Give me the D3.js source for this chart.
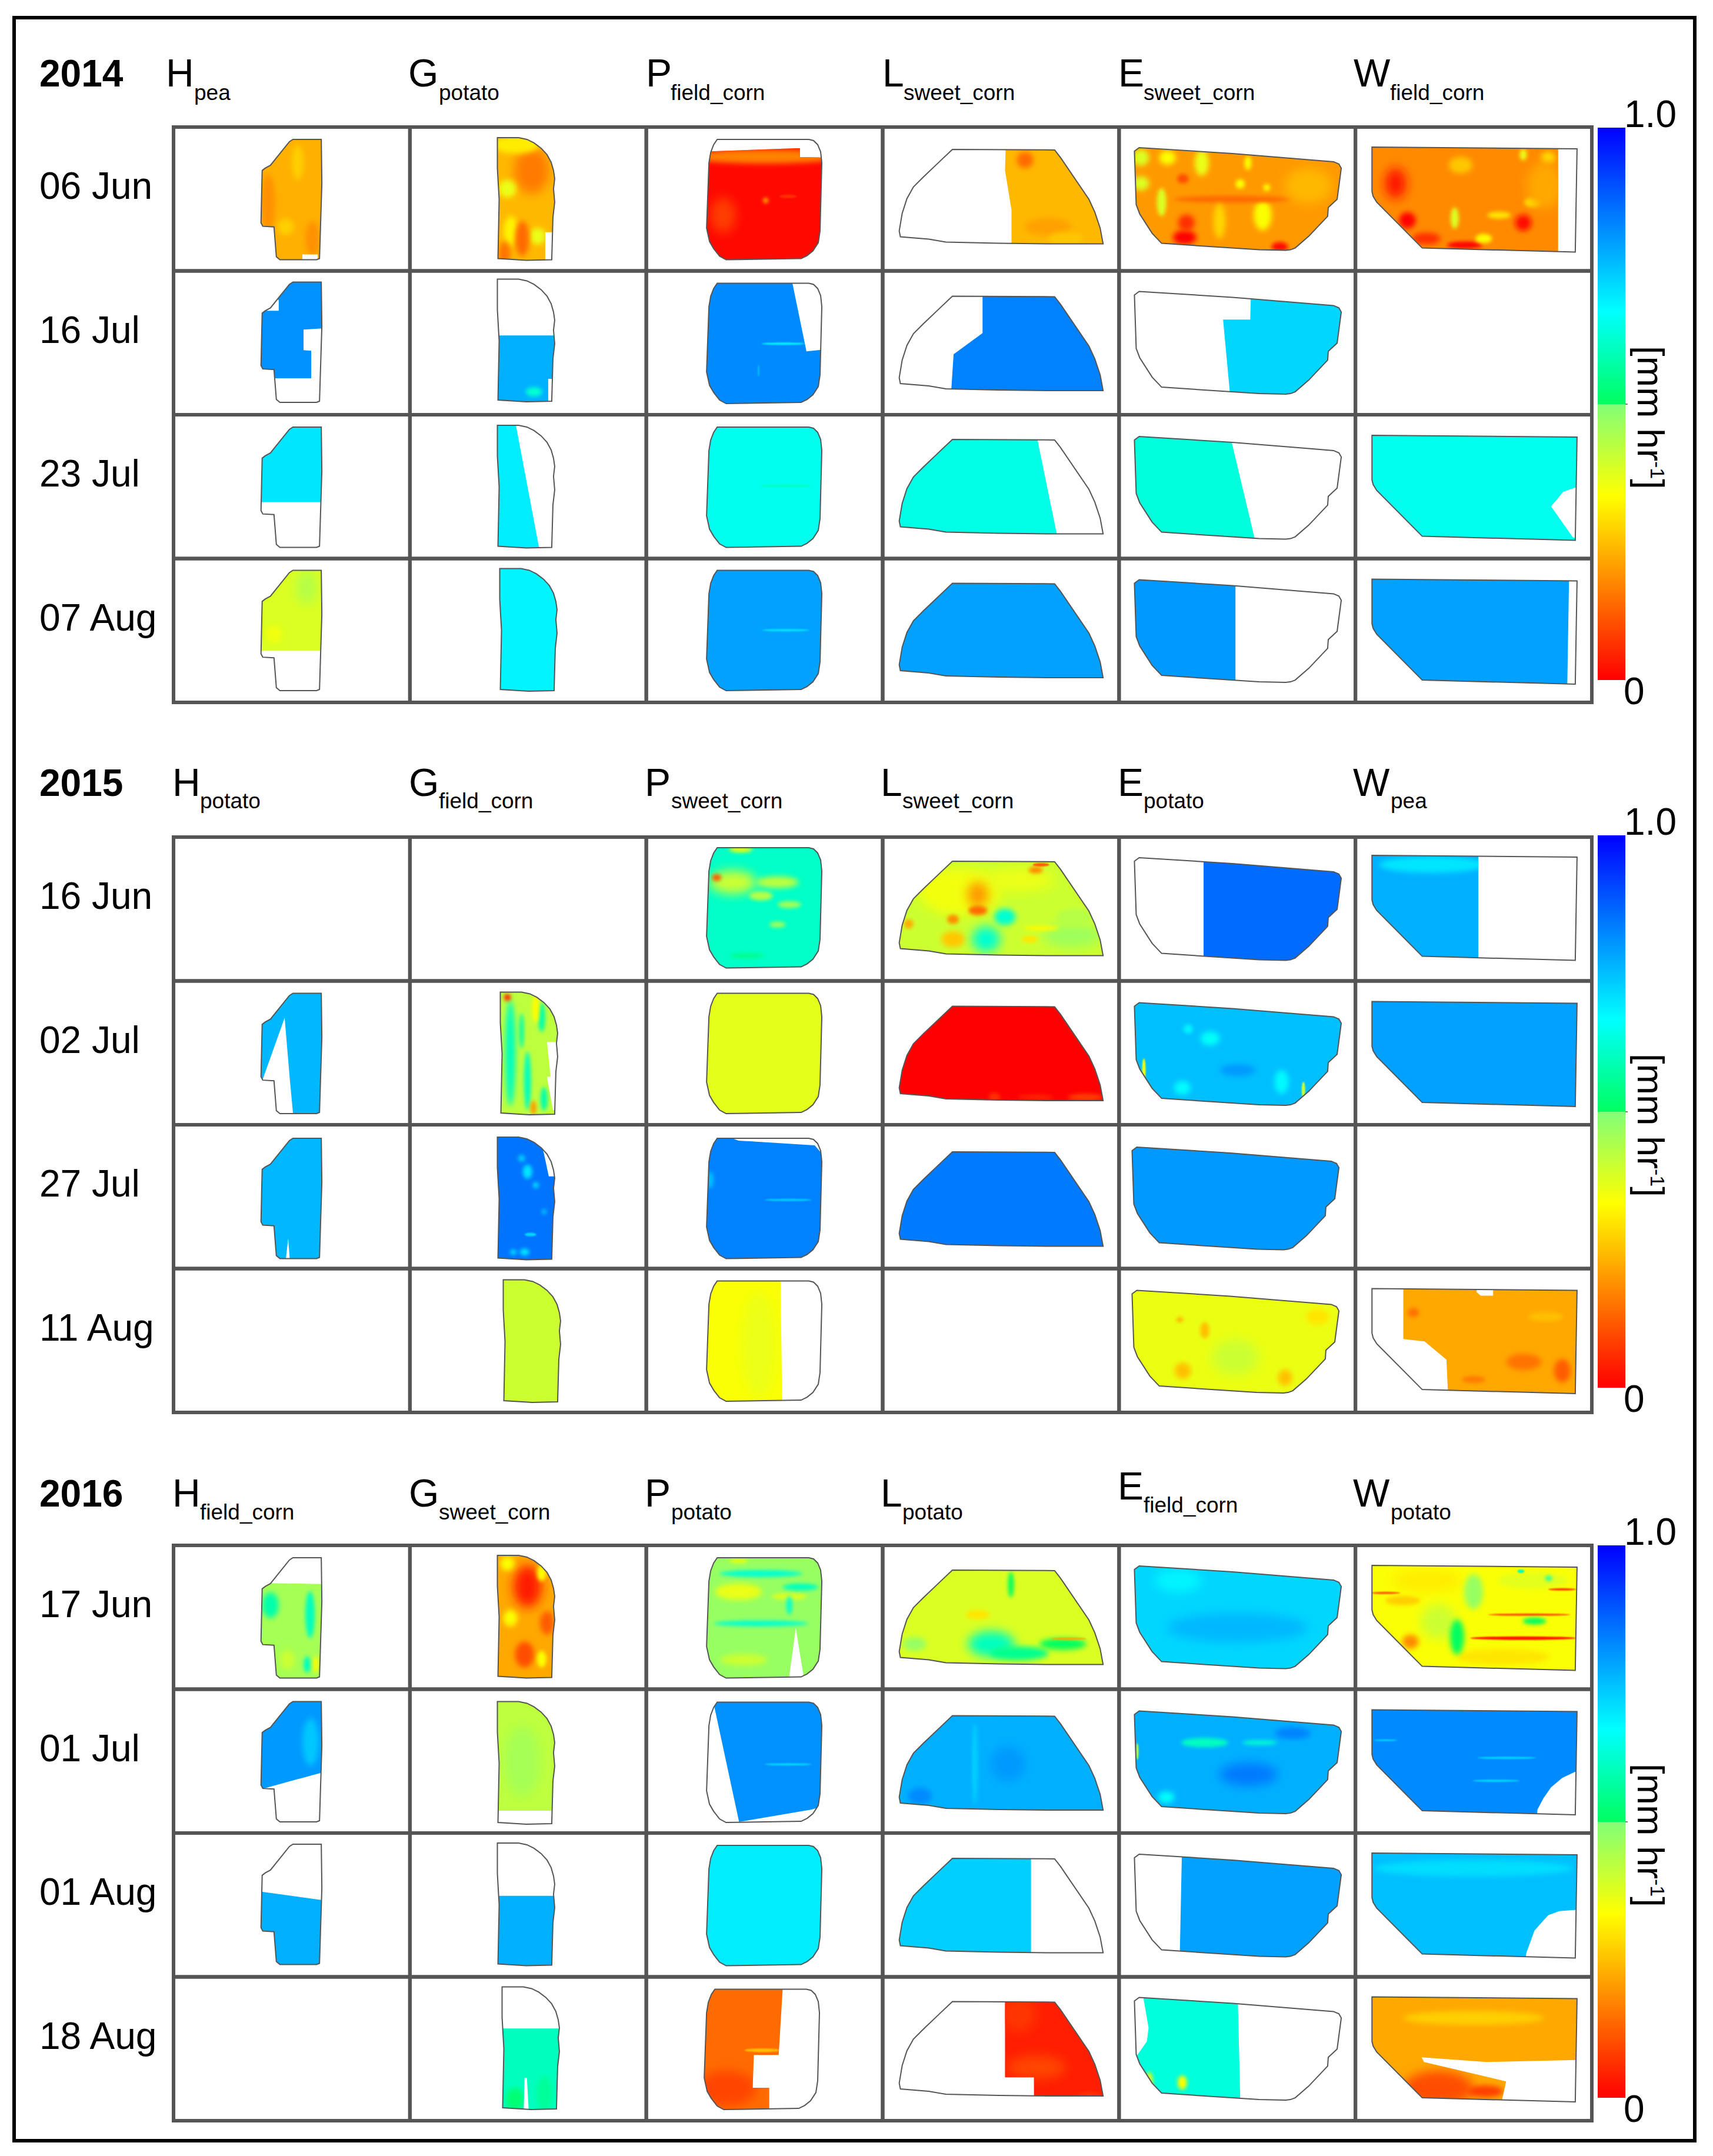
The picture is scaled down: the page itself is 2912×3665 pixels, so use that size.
<!DOCTYPE html>
<html>
<head>
<meta charset="utf-8">
<script src="https://cdnjs.cloudflare.com/ajax/libs/d3/7.8.5/d3.min.js"></script>
<style>
body { margin: 0; background: #fff; }
text { font-family: "Liberation Sans", Arial, sans-serif; fill: #000; }
</style>
</head>
<body>
<svg id="chart" width="2912" height="3665"></svg>
<script>
const years = ["2014", "2015", "2016"];
const fields = ["H", "G", "P", "L", "E", "W"];

const crops2014 = ["pea", "potato", "field_corn", "sweet_corn", "sweet_corn", "field_corn"];
const crops2015 = ["potato", "field_corn", "sweet_corn", "sweet_corn", "potato", "pea"];
const crops2016 = ["field_corn", "sweet_corn", "potato", "potato", "field_corn", "potato"];

const dates2014 = ["06 Jun", "16 Jul", "23 Jul", "07 Aug"];
const dates2015 = ["16 Jun", "02 Jul", "27 Jul", "11 Aug"];
const dates2016 = ["17 Jun", "01 Jul", "01 Aug", "18 Aug"];

// mean rate, mm/hr, rows = dates, columns = fields
const values2014 = [
    [.23, .24, .01, .24, .20, .18],
    [.81, .77, .82, .83, .72, null],
    [.70, .69, .65, .64, .63, .65],
    [.38, .68, .79, .79, .80, .79]
];
const values2015 = [
    [null, null, .61, .40, .86, .77],
    [.76, .42, .37, 0, .75, .79],
    [.76, .85, .83, .84, .80, null],
    [null, .40, .34, null, .36, .22]
];
const values2016 = [
    [.45, .22, .47, .38, .72, .34],
    [.80, .42, .81, .77, .77, .82],
    [.77, .77, .69, .73, .79, .75],
    [null, .60, .14, .04, .63, .22]
];

// field boundaries in plan units (one unit = one cell pixel, cell 400 x 245)
const outlineH = [[202,21],[250,21],[251,96],[247,224],[242,226],[180,226],[174,221],[170,170],[151,169],[148,163],[150,74],[155,70],[164,65],[196,25]];
const outlineG = [[148,18],[184,18],[198,21],[210,27],[222,36],[232,47],[239,60],[243,74],[245,88],[243,105],[245,128],[242,154],[240,226],[197,227],[149,224],[151,123],[148,70]];
const outlineP = [[120,21],[275,21],[283,23],[290,30],[295,42],[297,61],[294,177],[291,197],[282,211],[272,219],[262,224],[135,226],[124,220],[114,207],[107,195],[102,172],[106,61],[109,43],[114,30]];
const outlineL = [[118,38],[291,39],[301,52],[349,123],[359,145],[368,172],[373,199],[291,199],[196,198],[107,196],[78,191],[30,187],[28,177],[33,147],[41,122],[52,102],[69,85],[95,60]];
const outlineE = [[34,35],[192,45],[363,59],[372,63],[376,70],[369,123],[354,137],[353,152],[321,186],[298,206],[290,209],[282,210],[237,209],[72,198],[56,181],[35,148],[29,132],[26,41]];
const outlineW = [[28,34],[375,37],[372,213],[113,206],[36,128],[30,118],[28,110]];
const outlines = [outlineH, outlineG, outlineP, outlineL, outlineE, outlineW];

// small drift of the field inside its cell, [dx, dy]
const drift2014 = [
    [[0,0],[0,0],[0,0],[0,0],[0,0],[0,0]],
    [[0,-2],[0,-4],[0,0],[0,5],[0,0],[0,0]],
    [[0,0],[0,0],[0,0],[0,4],[0,2],[0,1]],
    [[0,-1],[4,-1],[0,-1],[0,4],[0,1],[0,1]]
];
const drift2015 = [
    [[0,0],[0,0],[0,-3],[0,3],[0,0],[0,-3]],
    [[0,0],[5,1],[0,0],[0,5],[0,2],[0,1]],
    [[0,2],[0,3],[0,2],[0,8],[-4,3],[0,0]],
    [[0,0],[10,1],[0,0],[0,0],[-4,2],[0,0]]
];
const drift2016 = [
    [[0,0],[0,-1],[0,0],[0,4],[0,0],[0,0]],
    [[0,0],[0,3],[0,1],[0,7],[0,2],[0,1]],
    [[0,-2],[0,-1],[0,0],[0,5],[0,1],[0,0]],
    [[0,0],[8,-1],[-4,0],[0,4],[0,0],[0,0]]
];

// part of a field the flight covered, key = "row,column"; a missing key = whole field
const cover2014 = {
    "0,0": [[0,0],[400,0],[400,245],[244,245],[244,217],[218,217],[218,245],[0,245]],
    "0,1": [[100,0],[300,0],[300,179],[229,179],[229,245],[100,245]],
    "0,2": [[90,42],[253,36],[260,36],[260,51],[310,52],[310,245],[90,245]],
    "0,3": [[209,0],[400,0],[400,245],[218,245],[218,141],[207,74]],
    "0,5": [[0,0],[343,0],[343,245],[0,245]],
    "1,0": [[151,12],[253,12],[253,100],[220,102],[220,137],[233,138],[233,185],[172,185],[145,173],[145,70],[178,70],[178,52],[172,45]],
    "1,1": [[100,114],[300,114],[300,188],[234,188],[234,245],[100,245]],
    "1,2": [[90,0],[243,0],[271,137],[310,133],[310,245],[90,245]],
    "1,3": [[169,0],[400,0],[400,245],[113,245],[120,137],[169,101]],
    "1,4": [[224,0],[400,0],[400,245],[191,245],[176,83],[222,83]],
    "2,0": [[0,0],[400,0],[400,149],[0,149]],
    "2,1": [[100,0],[176,0],[222,245],[100,245]],
    "2,3": [[0,0],[254,0],[304,245],[0,245]],
    "2,4": [[0,0],[180,0],[238,245],[0,245]],
    "2,5": [[0,0],[400,0],[400,122],[375,122],[352,130],[331,155],[368,208],[400,215],[400,245],[0,245]],
    "3,0": [[0,0],[400,0],[400,158],[0,158]],
    "3,4": [[0,0],[197,0],[197,245],[0,245]],
    "3,5": [[0,0],[362,0],[358,245],[0,245]]
};
const cover2015 = {
    "0,4": [[143,0],[400,0],[400,245],[143,245]],
    "0,5": [[0,0],[208,0],[208,245],[0,245]],
    "1,0": [[0,0],[400,0],[400,245],[204,245],[197,170],[188,63],[150,170],[0,170]],
    "1,1": [[100,0],[300,0],[300,103],[227,103],[233,162],[227,162],[237,219],[300,219],[300,245],[100,245]],
    "2,0": [[0,0],[400,0],[400,245],[198,245],[194,192],[188,245],[0,245]],
    "2,1": [[100,0],[215,0],[227,47],[235,85],[300,85],[300,245],[100,245]],
    "2,2": [[90,0],[156,25],[285,33],[298,48],[298,245],[90,245]],
    "3,2": [[0,0],[227,0],[230,245],[0,245]],
    "3,5": [[81,0],[205,0],[205,40],[212,46],[233,46],[233,0],[400,0],[400,245],[158,245],[154,155],[117,124],[81,120]]
};
const cover2016 = {
    "0,0": [[0,62],[400,68],[400,245],[0,245]],
    "0,2": [[90,0],[310,0],[310,245],[266,245],[266,222],[253,141],[242,222],[242,245],[90,245]],
    "1,0": [[0,0],[400,0],[400,101],[0,211]],
    "1,1": [[100,0],[300,0],[300,204],[100,204]],
    "1,2": [[109,0],[310,0],[310,195],[280,204],[157,225]],
    "1,5": [[0,0],[400,0],[400,135],[371,140],[350,150],[331,166],[318,185],[308,204],[305,245],[0,245]],
    "2,0": [[0,81],[400,137],[400,245],[0,245]],
    "2,1": [[100,108],[300,108],[300,245],[100,245]],
    "2,3": [[0,0],[251,0],[251,245],[0,245]],
    "2,4": [[107,0],[400,0],[400,245],[102,245]],
    "2,5": [[0,0],[400,0],[400,131],[370,131],[345,133],[326,140],[303,166],[289,205],[286,245],[0,245]],
    "3,1": [[100,89],[300,89],[300,245],[194,245],[190,173],[186,173],[184,245],[100,245]],
    "3,2": [[0,0],[236,0],[228,133],[186,133],[184,189],[212,189],[212,245],[0,245]],
    "3,3": [[207,0],[400,0],[400,245],[256,245],[256,167],[207,167]],
    "3,4": [[35,0],[200,0],[206,245],[0,245],[0,133],[31,133],[47,110],[50,87]],
    "3,5": [[0,0],[400,0],[400,141],[222,145],[112,137],[116,145],[255,178],[248,210],[248,245],[0,245]]
};

// patches inside a field: [x, y, rx, ry, rate]
const patches2014 = {
    "0,0": [[160,130,12,50,.19],[235,190,12,30,.19],[210,60,10,30,.27],[190,170,14,14,.27]],
    "0,1": [[206,74,30,40,.16],[180,30,40,15,.31],[165,105,15,15,.36],[216,186,14,14,.36],[171,177,12,25,.32],[190,190,12,30,.14],[160,215,10,20,.15]],
    "0,2": [[200,50,130,12,.17],[130,150,22,30,.08],[202,125,4,4,.28],[240,118,15,3,.06]],
    "0,3": [[241,56,14,14,.14],[280,170,40,15,.21],[310,190,30,10,.26]],
    "0,4": [[37,52,14,14,.38],[82,52,14,12,.34],[140,61,12,22,.36],[218,61,6,12,.34],[37,96,14,12,.38],[72,128,8,24,.38],[243,150,15,26,.34],[205,97,8,8,.34],[250,103,6,6,.34],[111,188,20,12,0],[114,163,14,14,.06],[272,204,14,8,.01],[192,123,100,6,.14],[108,88,10,8,.10],[170,160,10,30,.28],[320,100,40,30,.24]],
    "0,5": [[68,96,18,26,.03],[88,159,14,14,0],[284,163,14,14,.02],[185,201,30,6,0],[168,155,7,18,.38],[284,47,6,10,.36],[326,52,12,10,.29],[300,128,14,8,.30],[217,190,14,8,.33],[243,150,20,6,.30],[178,65,20,14,.26],[120,190,24,10,.06],[320,100,30,40,.22]],
    "1,1": [[210,210,14,8,.62]],
    "1,2": [[232,124,37,2,.68],[190,170,1,10,.72]],
    "2,2": [[236,121,44,2,.60]],
    "3,0": [[225,50,18,30,.43],[170,130,14,14,.35]],
    "3,2": [[236,123,40,2,.70]]
};
const patches2015 = {
    "0,2": [[146,80,40,20,.40],[222,80,36,10,.42],[119,72,8,6,.12],[242,118,20,6,.45],[194,103,20,8,.43],[160,24,20,5,.35],[222,152,14,5,.45],[170,205,30,5,.55]],
    "0,3": [[130,90,70,40,.35],[230,70,60,20,.36],[161,95,18,22,.20],[161,122,16,8,.14],[259,53,12,6,.18],[119,137,10,8,.18],[44,145,8,8,.22],[268,44,14,3,.12],[119,171,20,14,.26],[175,171,24,22,.62],[207,133,18,14,.62],[320,165,50,20,.46],[324,133,30,14,.43],[249,171,14,6,.30],[268,152,30,4,.33]],
    "0,5": [[130,50,90,14,.70]],
    "1,1": [[165,122,9,90,.60],[194,169,6,50,.60],[222,200,6,20,.58],[218,61,6,25,.58],[184,84,4,30,.58],[204,215,5,12,.2],[160,27,6,6,.05],[208,46,6,25,.33]],
    "1,3": [[343,193,30,6,.08],[189,193,10,8,.06],[259,193,30,4,.05]],
    "1,4": [[154,96,16,12,.66],[275,170,12,20,.67],[107,180,14,12,.67],[117,80,8,8,.68],[201,150,30,10,.80],[42,150,3,20,.35],[312,184,3,14,.40]],
    "2,1": [[199,77,8,12,.70],[213,100,5,5,.70],[204,184,10,3,.72],[194,214,8,6,.70],[175,214,6,4,.70],[227,145,4,4,.72],[189,54,6,6,.73]],
    "2,2": [[240,126,40,2,.73],[108,92,6,14,.75]],
    "3,2": [[190,130,30,90,.36]],
    "3,4": [[149,103,8,14,.25],[107,85,6,4,.22],[112,172,14,14,.25],[285,184,12,14,.25],[201,149,40,30,.40],[340,80,20,14,.30]],
    "3,5": [[285,159,30,14,.15],[350,174,14,20,.12],[98,75,10,8,.15],[200,189,20,6,.16],[322,82,30,8,.25]]
};
const patches2016 = {
    "0,0": [[231,118,8,40,.60],[164,102,14,22,.58],[226,203,6,14,.60],[241,203,5,14,.34],[193,195,12,16,.40]],
    "0,1": [[199,71,24,36,.04],[232,133,12,20,.12],[194,187,16,22,.10],[170,125,12,14,.34],[223,195,8,14,.34],[165,32,12,12,.34],[223,48,8,14,.33]],
    "0,2": [[156,79,40,14,.36],[242,87,30,6,.38],[156,26,16,4,.36],[194,48,70,6,.62],[194,133,80,5,.62],[261,71,30,6,.60],[242,102,5,16,.62],[165,195,40,10,.40]],
    "0,3": [[184,164,40,22,.60],[231,180,50,12,.55],[305,164,40,10,.50],[217,63,5,22,.50],[54,164,20,12,.47],[161,114,20,8,.30],[315,155,30,2,.22]],
    "0,4": [[200,140,120,25,.76],[100,60,40,20,.68]],
    "0,5": [[120,60,60,20,.31],[300,60,60,14,.37],[250,190,80,14,.30],[140,130,30,30,.40],[284,158,90,3,.03],[294,118,70,2,.10],[350,75,24,2,.08],[51,81,25,2,.12],[172,156,12,30,.50],[200,79,16,30,.47],[303,129,20,6,.50],[280,44,6,3,.60],[327,56,6,4,.60],[93,164,14,12,.18],[80,94,30,8,.27]],
    "1,0": [[232,90,14,40,.74]],
    "1,1": [[190,120,30,60,.45]],
    "1,2": [[240,127,40,2,.72]],
    "1,3": [[156,120,4,70,.72],[63,175,20,14,.82],[212,120,30,30,.80]],
    "1,4": [[145,89,40,8,.60],[238,89,30,4,.62],[80,182,14,10,.66],[219,143,50,20,.84],[294,73,30,10,.83],[31,104,2,14,.40]],
    "1,5": [[256,116,50,2,.72],[238,155,40,2,.72],[51,86,20,1.5,.72]],
    "2,5": [[200,60,170,14,.71]],
    "3,1": [[170,210,16,20,.52],[220,200,14,30,.56]],
    "3,2": [[200,125,30,3,.25],[140,190,50,30,.09]],
    "3,3": [[260,150,50,20,.09],[230,60,30,30,.07],[350,200,20,6,.07]],
    "3,4": [[107,180,8,12,.34],[51,180,6,18,.35]],
    "3,5": [[140,190,60,30,.10],[220,195,30,10,.08],[200,70,120,12,.27]]
};

const crops = [crops2014, crops2015, crops2016];
const dates = [dates2014, dates2015, dates2016];
const values = [values2014, values2015, values2016];
const drifts = [drift2014, drift2015, drift2016];
const covers = [cover2014, cover2015, cover2016];
const patches = [patches2014, patches2015, patches2016];

const barTicks = [0, 0.5, 1];

// layout, one entry per year block
const gridTop = [216, 1423, 2627];
const barTop = [217, 1420, 2627];
const headBase = [147, 1353, 2561];
const subBase = [170, 1374, 2583];
const headX = [[282, 694, 1098, 1500, 1901, 2301], [293, 695, 1096, 1497, 1900, 2300], [293, 695, 1096, 1497, 1900, 2300]];
const subX = [[330, 746, 1140, 1536, 1944, 2363], [340, 746, 1141, 1534, 1944, 2364], [340, 746, 1141, 1534, 1944, 2364]];

const svg = d3.select("#chart");
const defs = svg.append("defs");

svg.append("rect")
    .attr("x", 24)
    .attr("y", 30)
    .attr("width", 2857)
    .attr("height", 3609)
    .attr("fill", "#fff")
    .attr("stroke", "#000")
    .attr("stroke-width", 6);

// discontinuous at 0.5, the bar jumps from pale green to green there
const rate_color = d3.scaleLinear()
    .domain([0, 1 / 3, 0.5, 0.5, 2 / 3, 1])
    .range(["#ff0000", "#ffff00", "#80ff78", "#00ff60", "#00ffff", "#0000ff"])
    .clamp(true);

// blurs for the patches
[["fine", 1.3], ["small", 3], ["mid", 5], ["wide", 9]].forEach(function (b) {
    defs.append("filter")
        .attr("id", "blur_" + b[0])
        .attr("x", "-400%").attr("y", "-400%")
        .attr("width", "900%").attr("height", "900%")
        .append("feGaussianBlur")
        .attr("stdDeviation", b[1]);
});

function blur_for(p)
{
    let small = Math.min(p[2], p[3]);
    if (small <= 3) return "url(#blur_fine)";
    if (small <= 8) return "url(#blur_small)";
    if (small <= 16) return "url(#blur_mid)";
    return "url(#blur_wide)";
}

let gradient = defs.append("linearGradient")
    .attr("id", "bar_gradient")
    .attr("x1", 0).attr("y1", 1)
    .attr("x2", 0).attr("y2", 0);

gradient.selectAll("stop")
    .data(rate_color.domain())
    .enter().append("stop")
    .attr("offset", function (d) { return d; })
    .attr("stop-color", function (d, i) { return rate_color.range()[i]; });

function draw_year(y)
{
    let g = svg.append("g").attr("class", "year" + years[y]);

    let col = d3.scaleBand().domain(fields).range([295, 2706]);
    let row = d3.scaleBand().domain(dates[y]).range([gridTop[y], gridTop[y] + 978]);

    // header
    g.append("text")
        .attr("x", 67)
        .attr("y", headBase[y])
        .style("font-size", "64px")
        .style("font-weight", "bold")
        .text(years[y]);

    fields.forEach(function (f, i) {
        // the E label of 2016 sits higher than the others
        let lift = (y === 2 && f === "E") ? 12 : 0;
        g.append("text")
            .attr("x", headX[y][i])
            .attr("y", headBase[y] - lift)
            .style("font-size", "66px")
            .text(f);
        g.append("text")
            .attr("x", subX[y][i])
            .attr("y", subBase[y] - lift)
            .style("font-size", "37px")
            .text(crops[y][i]);
    });

    dates[y].forEach(function (d) {
        g.append("text")
            .attr("x", 67)
            .attr("y", row(d) + 122)
            .style("font-size", "64px")
            .text(d);
    });

    // fields
    dates[y].forEach(function (d, r) {
        fields.forEach(function (f, c) {
            let value = values[y][r][c];
            if (value === null) {
                return;
            }
            let key = r + "," + c;
            let id = "y" + y + "_" + key.replace(",", "_");
            let drift = drifts[y][r][c];

            let plan_x = d3.scaleLinear().domain([0, 400])
                .range([col(f) + drift[0], col(f) + col.bandwidth() + drift[0]]);
            let plan_y = d3.scaleLinear().domain([0, 245])
                .range([row(d) + drift[1], row(d) + row.bandwidth() + drift[1]]);
            let plan_line = d3.line()
                .x(function (p) { return plan_x(p[0]); })
                .y(function (p) { return plan_y(p[1]); });

            let outline_path = plan_line(outlines[c]) + "Z";

            defs.append("clipPath").attr("id", "field_" + id)
                .append("path").attr("d", outline_path);

            let cover = covers[y][key] || [[0, 0], [400, 0], [400, 245], [0, 245]];
            defs.append("clipPath").attr("id", "cover_" + id)
                .append("path").attr("d", plan_line(cover) + "Z");

            let inner = g.append("g")
                .attr("clip-path", "url(#field_" + id + ")")
                .append("g")
                .attr("clip-path", "url(#cover_" + id + ")");

            inner.append("rect")
                .attr("x", plan_x(0))
                .attr("y", plan_y(0))
                .attr("width", plan_x(400) - plan_x(0))
                .attr("height", plan_y(245) - plan_y(0))
                .attr("fill", rate_color(value));

            inner.selectAll("ellipse")
                .data(patches[y][key] || [])
                .enter().append("ellipse")
                .attr("cx", function (p) { return plan_x(p[0]); })
                .attr("cy", function (p) { return plan_y(p[1]); })
                .attr("rx", function (p) { return p[2]; })
                .attr("ry", function (p) { return p[3]; })
                .attr("fill", function (p) { return rate_color(p[4]); })
                .attr("filter", blur_for);

            g.append("path")
                .attr("d", outline_path)
                .attr("fill", "none")
                .attr("stroke", "#555")
                .attr("stroke-width", 2);
        });
    });

    // grid
    dates[y].forEach(function (d) {
        fields.forEach(function (f) {
            g.append("rect")
                .attr("x", col(f))
                .attr("y", row(d))
                .attr("width", col.bandwidth())
                .attr("height", row.bandwidth())
                .attr("fill", "none")
                .attr("stroke", "#555")
                .attr("stroke-width", 6);
        });
    });

    // colour bar
    let bar_scale = d3.scaleLinear().domain([0, 1]).range([barTop[y] + 939, barTop[y]]);

    g.append("rect")
        .attr("x", 2716)
        .attr("y", barTop[y])
        .attr("width", 47)
        .attr("height", 939)
        .attr("fill", "url(#bar_gradient)");

    let axis = d3.axisRight(bar_scale)
        .tickValues(barTicks)
        .tickSize(4)
        .tickFormat(function (v) { return v === 1 ? "1.0" : v === 0 ? "0" : ""; });

    let axis_g = g.append("g")
        .attr("transform", "translate(2763,0)")
        .call(axis);

    axis_g.select(".domain").remove();
    axis_g.selectAll("line")
        .attr("stroke", "#000")
        .attr("stroke-width", 1)
        .filter(function (v) { return v !== 0.5; })
        .remove();
    axis_g.selectAll("text")
        .attr("x", function (v) { return v === 1 ? -2 : -3; })
        .attr("dy", 0)
        .attr("y", function (v) { return v === 1 ? -2 : 40; })
        .style("font-size", "64px")
        .style("font-family", "Liberation Sans");

    let unit = g.append("text")
        .attr("transform", "translate(2784," + (barTop[y] + 371) + ") rotate(90)")
        .style("font-size", "63px");
    unit.append("tspan").text("[mm hr");
    unit.append("tspan").attr("dy", -22).style("font-size", "34px").text("-1");
    unit.append("tspan").attr("dy", 22).text("]");
}

years.forEach(function (d, i) {
    draw_year(i);
});
</script>
</body>
</html>
